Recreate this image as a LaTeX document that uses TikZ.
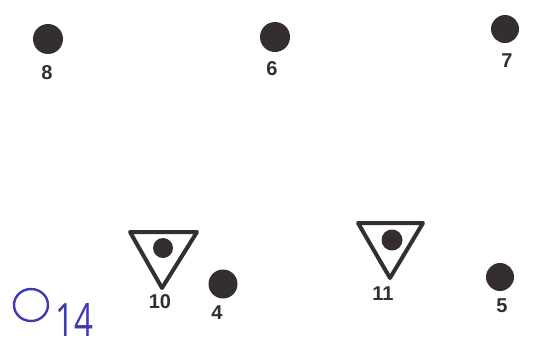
\documentclass[tikz,border=0pt]{standalone}
\usepackage{fontspec}
\setmainfont{Liberation Sans}
\newfontfamily\hand{Open Sans}
\definecolor{ink}{RGB}{52,46,46}
\definecolor{pen}{RGB}{62,58,175}
\begin{document}
\begin{tikzpicture}[x=1pt,y=-1pt,
  dot/.style={circle,fill=ink,inner sep=0pt,minimum size=#1},
  lbl/.style={text=ink,font=\bfseries\fontsize{20}{20}\selectfont,inner sep=0pt},
  tri/.style={draw=ink,line width=4pt,line join=round,line cap=round}]
\fill[white] (0,0) rectangle (557,349);
\useasboundingbox (0,0) rectangle (557,349);
% top row
\node[dot=30pt] (d8) at (48,39) {};
\node[lbl] (l8) at (47,73) {8};
\node[dot=30pt] (d6) at (275,37) {};
\node[lbl] (l6) at (272,69) {6};
\node[dot=28pt] (d7) at (505,29) {};
\node[lbl] (l7) at (507,61) {7};
% triangle 10
\coordinate (t10a) at (130,232);
\coordinate (t10b) at (197,232);
\coordinate (t10c) at (162,288);
\draw[tri] (t10a) -- (t10b) -- (t10c) -- cycle;
\node[dot=20pt] (d10) at (163,248) {};
\node[lbl] (l10) at (160,302) {10};
% dot 4
\node[dot=29pt] (d4) at (223,284) {};
\node[lbl] (l4) at (217,313) {4};
% triangle 11
\coordinate (t11a) at (358,223);
\coordinate (t11b) at (423,223);
\coordinate (t11c) at (390,278);
\draw[tri] (t11a) -- (t11b) -- (t11c) -- cycle;
\node[dot=21pt] (d11) at (392,240) {};
\node[lbl] (l11) at (383,294) {11};
% dot 5
\node[dot=28pt] (d5) at (500,277) {};
\node[lbl] (l5) at (502,306) {5};
% handwritten mark
\draw[pen,line width=2.4pt] (31,305) ellipse (17pt and 16pt);
\node[text=pen,font=\hand\fontsize{46}{46}\selectfont,inner sep=0pt,xscale=0.72] (h14) at (74,320) {14};
\end{tikzpicture}
\end{document}
